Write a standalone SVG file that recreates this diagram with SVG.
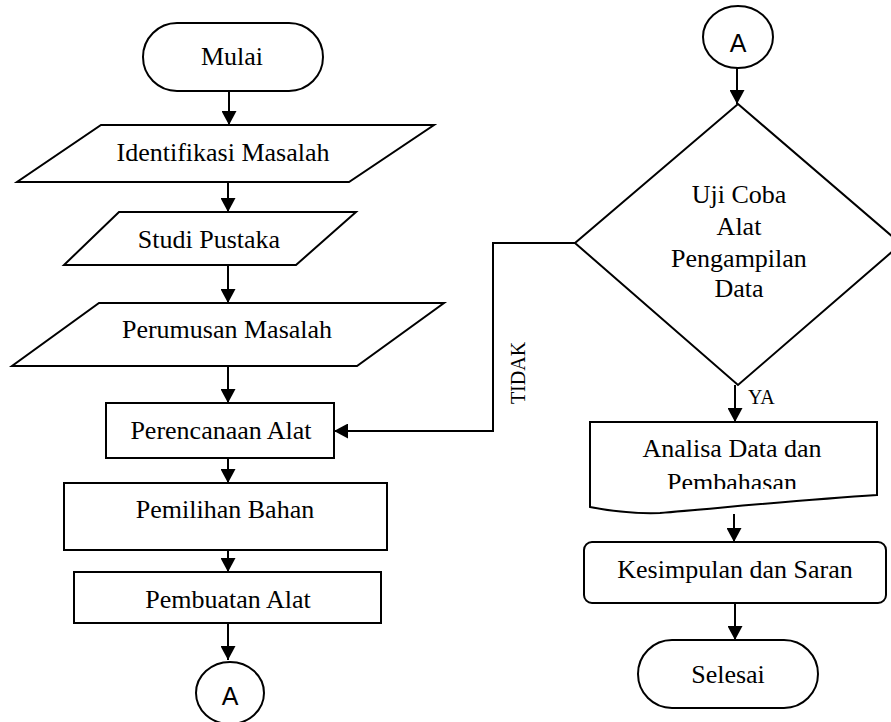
<svg xmlns="http://www.w3.org/2000/svg" width="891" height="722" viewBox="0 0 891 722">
<style>
.s{fill:#fff;stroke:#000;stroke-width:2}
.t{font-family:"Liberation Serif","Times New Roman",serif;font-size:26px;fill:#000;text-anchor:middle}
.a{font-family:"Liberation Sans",Arial,sans-serif;font-size:25px;fill:#000;text-anchor:middle}
.c{fill:none;stroke:#000;stroke-width:2}
.l{font-family:"Liberation Serif","Times New Roman",serif;font-size:20px;fill:#000}
</style>
<defs>
<marker id="ah" markerUnits="userSpaceOnUse" markerWidth="15" markerHeight="15" refX="14" refY="7.5" orient="auto">
<path d="M0,0 L14,7.5 L0,15 Z" fill="#000"/>
</marker>
<clipPath id="docclip"><rect x="590" y="422" width="290" height="67"/></clipPath>
</defs>
<rect width="891" height="722" fill="#fff"/>
<g id="connectors">
<line class="c" x1="229" y1="91" x2="229" y2="125" marker-end="url(#ah)"/>
<line class="c" x1="228" y1="182" x2="228" y2="212" marker-end="url(#ah)"/>
<line class="c" x1="228" y1="265" x2="228" y2="303" marker-end="url(#ah)"/>
<line class="c" x1="228" y1="366" x2="228" y2="403" marker-end="url(#ah)"/>
<line class="c" x1="228" y1="458" x2="228" y2="483" marker-end="url(#ah)"/>
<line class="c" x1="228" y1="550" x2="228" y2="572" marker-end="url(#ah)"/>
<line class="c" x1="228" y1="623" x2="228" y2="660" marker-end="url(#ah)"/>
<line class="c" x1="737" y1="68" x2="737" y2="104" marker-end="url(#ah)"/>
<polyline class="c" points="575,243 493,243 493,431 334,431" marker-end="url(#ah)"/>
<line class="c" x1="735" y1="385" x2="735" y2="422" marker-end="url(#ah)"/>
<line class="c" x1="734" y1="514" x2="734" y2="542" marker-end="url(#ah)"/>
<line class="c" x1="735" y1="603" x2="735" y2="640" marker-end="url(#ah)"/>
<text class="l" x="525" y="373" text-anchor="middle" transform="rotate(-90 525 373)">TIDAK</text>
<text class="l" x="748" y="404">YA</text>
</g>
<g id="mulai">
<rect class="s" x="143" y="23" width="180" height="68" rx="34" ry="34"/>
<text class="t" x="232" y="65">Mulai</text>
</g>
<g id="identifikasi">
<polygon class="s" points="101,125 434,125 349,182 17,182"/>
<text class="t" x="223" y="161">Identifikasi Masalah</text>
</g>
<g id="studi">
<polygon class="s" points="119,212 356,212 296,265 64,265"/>
<text class="t" x="209" y="248">Studi Pustaka</text>
</g>
<g id="perumusan">
<polygon class="s" points="99,303 444,303 357,366 12,366"/>
<text class="t" x="227" y="338">Perumusan Masalah</text>
</g>
<g id="perencanaan">
<rect class="s" x="106" y="403" width="228" height="55"/>
<text class="t" x="221" y="439">Perencanaan Alat</text>
</g>
<g id="pemilihan">
<rect class="s" x="64" y="483" width="323" height="67"/>
<text class="t" x="225" y="518">Pemilihan Bahan</text>
</g>
<g id="pembuatan">
<rect class="s" x="74" y="572" width="307" height="51"/>
<text class="t" x="228" y="608">Pembuatan Alat</text>
</g>
<g id="connA1">
<ellipse class="s" cx="230" cy="693" rx="34" ry="31"/>
<text class="a" x="230" y="705">A</text>
</g>
<g id="connA2">
<ellipse class="s" cx="738" cy="37" rx="35" ry="31"/>
<text class="a" x="738" y="52">A</text>
</g>
<g id="uji">
<polygon class="s" points="738,104 901,244 738,385 575,243"/>
<text class="t" x="739" y="203">Uji Coba</text>
<text class="t" x="739" y="235">Alat</text>
<text class="t" x="739" y="267">Pengampilan</text>
<text class="t" x="739" y="297">Data</text>
</g>
<g id="analisa">
<path class="s" d="M590,422 H877 V495 C800,500 720,508 660,513 C630,514 605,510 590,507 Z"/>
<g clip-path="url(#docclip)">
<text class="t" x="732" y="457">Analisa Data dan</text>
<text class="t" x="732" y="491">Pembahasan</text>
</g>
</g>
<g id="kesimpulan">
<rect class="s" x="584" y="542" width="302" height="61" rx="8" ry="8"/>
<text class="t" x="735" y="578">Kesimpulan dan Saran</text>
</g>
<g id="selesai">
<rect class="s" x="638" y="640" width="180" height="68" rx="34" ry="34"/>
<text class="t" x="728" y="683">Selesai</text>
</g>
</svg>
